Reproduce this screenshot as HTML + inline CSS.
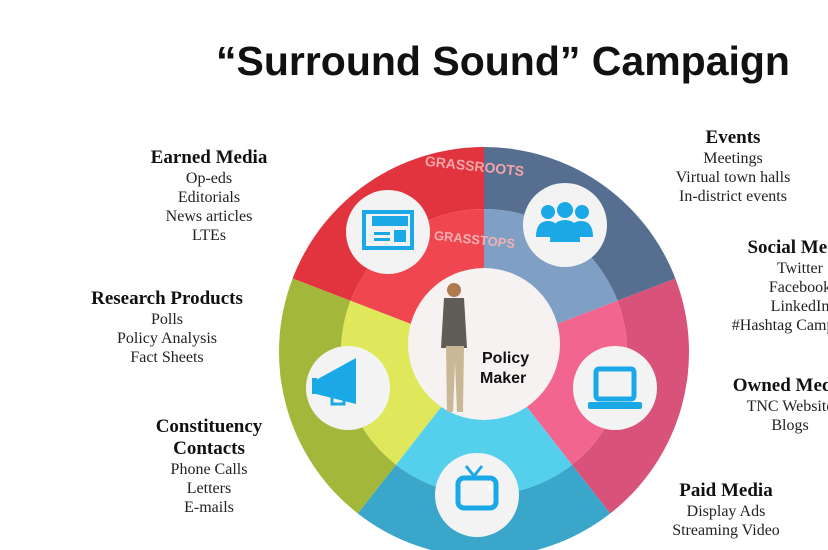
<!DOCTYPE html>
<html><head><meta charset="utf-8"><style>
html,body{margin:0;padding:0;width:828px;height:550px;overflow:hidden;background:#fff;position:relative}
.t{position:absolute;left:0;top:38px;width:1006px;text-align:center;font:bold 41px "Liberation Sans",sans-serif;color:#111;letter-spacing:0}
.b{position:absolute;text-align:center;font:16px/19px "Liberation Serif",serif;color:#222;white-space:nowrap;transform:translateX(-50%)}
.b b{font-size:19px;line-height:22px;color:#111}
svg{position:absolute;left:0;top:0}
</style></head><body>
<div class="t">“Surround Sound” Campaign</div>
<svg width="828" height="550" id="s">
<g id="g"></g>
<text x="474" y="172" font-family="Liberation Sans" font-weight="bold" font-size="14" fill="#f3a5a8" text-anchor="middle" transform="rotate(6 484 172)">GRASSROOTS</text>
<text x="474" y="245" font-family="Liberation Sans" font-weight="bold" font-size="13" fill="#f3b0b3" text-anchor="middle" transform="rotate(6 484 245)">GRASSTOPS</text>
<g fill="#f4f3f3">
<circle cx="388" cy="232" r="42"/><circle cx="565" cy="225" r="42"/><circle cx="615" cy="388" r="42"/><circle cx="477" cy="495" r="42"/><circle cx="348" cy="388" r="42"/>
<circle cx="484" cy="344" r="76" fill="#f6f2f2"/>
</g>
<g fill="#1aa9e6" stroke="none">
<rect x="364" y="212" width="48" height="36" fill="none" stroke="#1aa9e6" stroke-width="4"/>
<rect x="372" y="216" width="36" height="10"/><rect x="374" y="232" width="16" height="3"/><rect x="374" y="238" width="16" height="3"/><rect x="394" y="230" width="12" height="12"/>
<circle cx="548" cy="212" r="7"/><circle cx="565" cy="210" r="8"/><circle cx="582" cy="212" r="7"/>
<path d="M536 237q0-16 12-16q12 0 12 16z M569 237q0-16 12-16q12 0 12 16z M550 242q0-22 15-22q15 0 15 22z"/>
<rect x="596" y="369" width="38" height="30" rx="3" fill="none" stroke="#1aa9e6" stroke-width="5"/><rect x="588" y="402" width="54" height="7" rx="2"/>
<rect x="458" y="478" width="38" height="30" rx="6" fill="none" stroke="#1aa9e6" stroke-width="5"/><path d="M466 466l8 10l8-10" fill="none" stroke="#1aa9e6" stroke-width="3"/><circle cx="490" cy="487" r="2" fill="#fff"/>
<path d="M316 380l40-22v46l-40-10z"/><rect x="312" y="378" width="5" height="16"/><path d="M332 396v8h12v-6" fill="none" stroke="#1aa9e6" stroke-width="3"/>
</g>
<g>
<circle cx="454" cy="290" r="7" fill="#b07a50"/>
<path d="M444 298h20l3 50h-26z" fill="#5f5d55"/>
<path d="M446 346h18l-1 66h-6l-2-50l-2 50h-6z" fill="#c9b896"/>
</g>
<text x="482" y="363" font-family="Liberation Sans" font-weight="bold" font-size="16" fill="#111">Policy</text>
<text x="480" y="383" font-family="Liberation Sans" font-weight="bold" font-size="16" fill="#111">Maker</text>
</svg>
<div class="b" style="left:209px;top:147px"><b>Earned Media</b><br>Op-eds<br>Editorials<br>News articles<br>LTEs</div>
<div class="b" style="left:167px;top:288px"><b>Research Products</b><br>Polls<br>Policy Analysis<br>Fact Sheets</div>
<div class="b" style="left:209px;top:416px"><b>Constituency<br>Contacts</b><br>Phone Calls<br>Letters<br>E-mails</div>
<div class="b" style="left:733px;top:127px"><b>Events</b><br>Meetings<br>Virtual town halls<br>In-district events</div>
<div class="b" style="left:800px;top:237px"><b>Social Media</b><br>Twitter<br>Facebook<br>LinkedIn<br>#Hashtag Campaigns</div>
<div class="b" style="left:790px;top:375px"><b>Owned Media</b><br>TNC Website<br>Blogs</div>
<div class="b" style="left:726px;top:480px"><b>Paid Media</b><br>Display Ads<br>Streaming Video</div>
<script>
var cx=484,cy=352,R=205,r2=143,r1=0;
function P(r,a){a=a*Math.PI/180;return (cx+r*Math.cos(a)).toFixed(1)+" "+(cy+r*Math.sin(a)).toFixed(1);}
function sec(ri,ro,a,b,c){var l=(b-a)>180?1:0;
return '<path fill="'+c+'" d="M'+P(ri,a)+' L'+P(ro,a)+' A'+ro+' '+ro+' 0 '+l+' 1 '+P(ro,b)+' L'+P(ri,b)+(ri>0?' A'+ri+' '+ri+' 0 '+l+' 0 '+P(ri,a):'')+'Z"/>';}
var s=[[-159,-90,'#e2343f','#f0464f'],[-90,-21,'#566e8f','#7f9fc4'],[-21,52,'#d8527a','#f2658f'],[52,128,'#3aa6c9','#55d0ec'],[128,201,'#a3b83a','#dfe85a']];
var h='';s.forEach(function(x){h+=sec(r2,R,x[0],x[1],x[2]);h+=sec(0,r2,x[0],x[1],x[3]);});
document.getElementById('g').innerHTML=h;
</script>
</body></html>
